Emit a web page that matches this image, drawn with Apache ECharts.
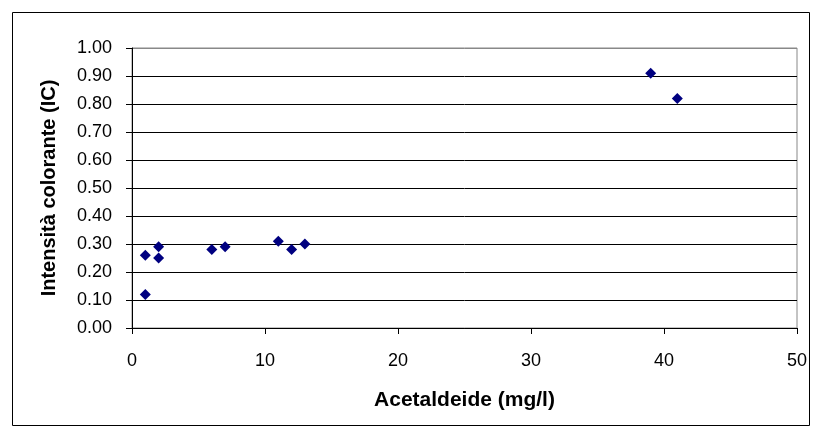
<!DOCTYPE html>
<html><head><meta charset="utf-8">
<script src="https://cdn.jsdelivr.net/npm/echarts@6/dist/echarts.min.js"></script>
<style>html,body{margin:0;padding:0;background:#fff}#c{width:816px;height:432px}</style>
</head><body><div id="c"></div>
<script>
const acetaldeide = [1, 1, 2, 2, 6, 7, 11, 12, 13, 39, 41];
const intensita = [0.26, 0.12, 0.29, 0.25, 0.28, 0.29, 0.31, 0.28, 0.30, 0.91, 0.82];
const xTitle = 'Acetaldeide (mg/l)';
const yTitle = 'Intensità colorante (IC)';

const points = acetaldeide.map((x, i) => [x, intensita[i]]);
const gridColors = ['#000','#000','#000','#000','#000','#000','#000','#000','#000','#000','#888'];
const chart = echarts.init(document.getElementById('c'), null, {renderer: 'canvas'});
chart.setOption({
  animation: false,
  textStyle: {fontFamily: 'Liberation Sans, Arial, sans-serif'},
  graphic: [{
    type: 'rect', left: 10, top: 10, z: -10,
    shape: {width: 797, height: 413},
    style: {fill: 'none', stroke: '#000', lineWidth: 1}
  }],
  grid: {left: 132, right: 19, top: 48, bottom: 104, show: true, borderColor: '#888', borderWidth: 1},
  xAxis: {
    type: 'value', min: 0, max: 50, interval: 10,
    name: xTitle, nameLocation: 'middle', nameGap: 62,
    nameTextStyle: {fontSize: 21, fontWeight: 'bold', color: '#000'},
    axisLine: {show: true, onZero: false, lineStyle: {color: '#000', width: 1}},
    axisTick: {show: true, length: 6, lineStyle: {color: '#000'}},
    axisLabel: {fontSize: 18, color: '#000', margin: 24},
    splitLine: {show: false}
  },
  yAxis: {
    type: 'value', min: 0, max: 1, interval: 0.1,
    name: yTitle, nameLocation: 'middle', nameGap: 73, nameRotate: 90,
    nameTextStyle: {fontSize: 20, fontWeight: 'bold', color: '#000'},
    axisLine: {show: true, onZero: false, lineStyle: {color: '#000', width: 1}},
    axisTick: {show: true, length: 6, lineStyle: {color: '#000'}},
    axisLabel: {fontSize: 18, color: '#000', margin: 20, formatter: v => v.toFixed(2)},
    splitLine: {show: true, lineStyle: {color: gridColors, width: 1}}
  },
  series: [{
    type: 'scatter', data: points, symbol: 'diamond', symbolSize: 11,
    itemStyle: {color: '#000080', opacity: 1}
  }]
});
</script></body></html>
